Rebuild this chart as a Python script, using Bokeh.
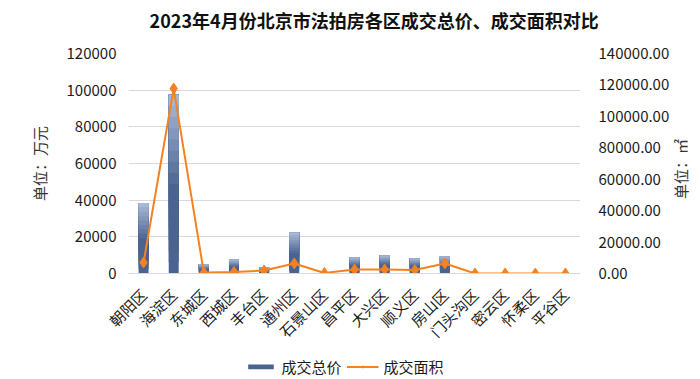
from bokeh.plotting import figure
from bokeh.models import (Range1d, LinearAxis, FixedTicker, NumeralTickFormatter,
                          Legend, LegendItem, FactorRange)
from bokeh.core.properties import value
from bokeh.layouts import column, row
from bokeh.embed import file_html
from bokeh.resources import INLINE
from math import pi

title_text = "2023年4月份北京市法拍房各区成交总价、成交面积对比"
districts = ["朝阳区", "海淀区", "东城区", "西城区", "丰台区", "通州区", "石景山区", "昌平区",
             "大兴区", "顺义区", "房山区", "门头沟区", "密云区", "怀柔区", "平谷区"]
total_price = [38500, 97500, 4900, 7600, 3300, 22400, 300, 8700,
               9800, 8200, 9300, 0, 0, 0, 0]
total_area = [7000, 117700, 600, 1000, 1900, 6400, 300, 2500,
              2500, 2200, 6400, 0, 0, 0, 0]
left_ticks = [0, 20000, 40000, 60000, 80000, 100000, 120000]
right_ticks = [0, 20000, 40000, 60000, 80000, 100000, 120000, 140000]
series_names = ["成交总价", "成交面积"]
left_label = "单位：万元"
right_label = "单位：㎡"

FONT = "Noto Sans CJK SC"
ORANGE = "#f5821f"
DARK = "#4a6391"
LIGHT = "#b3c3df"


def strip(w, h):
    f = figure(width=w, height=h, x_range=Range1d(0, 1), y_range=Range1d(0, 1),
               output_backend="svg", toolbar_location=None,
               min_border_left=0, min_border_right=0, min_border_top=0, min_border_bottom=0)
    f.axis.visible = False
    f.grid.visible = False
    f.outline_line_color = None
    return f


# title strip
top = strip(688, 36)
top.text(x=[0.543], y=[0.47], text=[title_text], text_font=value(FONT),
         text_font_size="18px", text_font_style="bold", text_color="#111111",
         text_align="center", text_baseline="middle")

p = figure(frame_width=452, frame_height=220, x_range=FactorRange(*districts),
           y_range=Range1d(0, 120000), output_backend="svg", toolbar_location=None,
           min_border_left=128, min_border_right=84, min_border_top=17, min_border_bottom=68)
p.extra_y_ranges = {"area": Range1d(0, 140000)}

p.outline_line_color = None
p.xgrid.grid_line_color = None
p.ygrid.grid_line_color = "#d9d9d9"
p.ygrid.ticker = FixedTicker(ticks=left_ticks)


def mix(c1, c2, t):
    a = [int(c1[i:i + 2], 16) for i in (1, 3, 5)]
    b = [int(c2[i:i + 2], 16) for i in (1, 3, 5)]
    return "#%02x%02x%02x" % tuple(round(a[j] + (b[j] - a[j]) * t) for j in range(3))


# gradient bars: overlapping layers, each from a fraction of the value up to the value
N = 16
for k in range(N):
    f = k / N
    t = 0.0 if f < 0.45 else (f - 0.45) / 0.55
    col = mix(DARK, LIGHT, t)
    p.vbar(x=districts, bottom=[v * f for v in total_price], top=total_price, width=0.33,
           fill_color=col, line_color=None)

p.line(districts, total_area, y_range_name="area", line_color=ORANGE, line_width=2)
p.scatter(districts, total_area, y_range_name="area", marker="diamond", size=11,
          fill_color=ORANGE, line_color=ORANGE)

p.yaxis.ticker = FixedTicker(ticks=left_ticks)
p.yaxis.formatter = NumeralTickFormatter(format="0")
p.yaxis.axis_label = left_label
ra = LinearAxis(y_range_name="area", ticker=FixedTicker(ticks=right_ticks),
                formatter=NumeralTickFormatter(format="0.00"))
p.add_layout(ra, "right")

for ax in [p.yaxis[0], ra]:
    ax.axis_line_color = None
    ax.major_tick_line_color = None
    ax.minor_tick_line_color = None
    ax.major_label_text_font = FONT
    ax.major_label_text_font_size = "15px"
    ax.major_label_text_color = "#1a1a1a"
    ax.axis_label_text_font = FONT
    ax.axis_label_text_font_size = "15px"
    ax.axis_label_text_font_style = "normal"
    ax.axis_label_text_color = "#333333"
p.yaxis[0].major_label_standoff = 6
p.yaxis[0].axis_label_standoff = 14
ra.major_label_standoff = 12

xa = p.xaxis[0]
xa.axis_line_color = "#d9d9d9"
xa.major_tick_line_color = None
xa.minor_tick_line_color = None
xa.major_label_orientation = pi / 4
xa.major_label_text_font = FONT
xa.major_label_text_font_size = "15px"
xa.major_label_text_color = "#1a1a1a"
xa.major_label_standoff = 12

# narrow strip on the right carrying the secondary axis title (reads bottom to top)
side = strip(24, 305)
side.text(x=[0.33], y=[0.45], text=[right_label], angle=pi / 2,
          text_font=value(FONT), text_font_size="15px", text_color="#333333",
          text_align="center", text_baseline="middle")

# legend strip below the chart (sample glyphs placed outside the visible range)
lg = strip(688, 30)
r_bar = lg.vbar(x=[5], top=[5], bottom=[4], width=0.1, fill_color=DARK, line_color=None)
r_line = lg.line(x=[5, 6], y=[5, 5], line_color=ORANGE, line_width=2)
r_pts = lg.scatter(x=[5], y=[5], marker="diamond", size=9, fill_color=ORANGE, line_color=ORANGE)
legend = Legend(items=[LegendItem(label=series_names[0], renderers=[r_bar]),
                       LegendItem(label=series_names[1], renderers=[r_line, r_pts])],
                orientation="horizontal", location="center",
                label_text_font=FONT, label_text_font_size="15px", label_text_color="#1a1a1a",
                glyph_width=32, glyph_height=6, spacing=5, label_standoff=5,
                border_line_color=None, background_fill_alpha=0, padding=0, margin=0)
lg.add_layout(legend, "center")

layout = column(top, row(p, side, spacing=0), lg, spacing=0)
open("out.html", "w").write(file_html(layout, INLINE))
